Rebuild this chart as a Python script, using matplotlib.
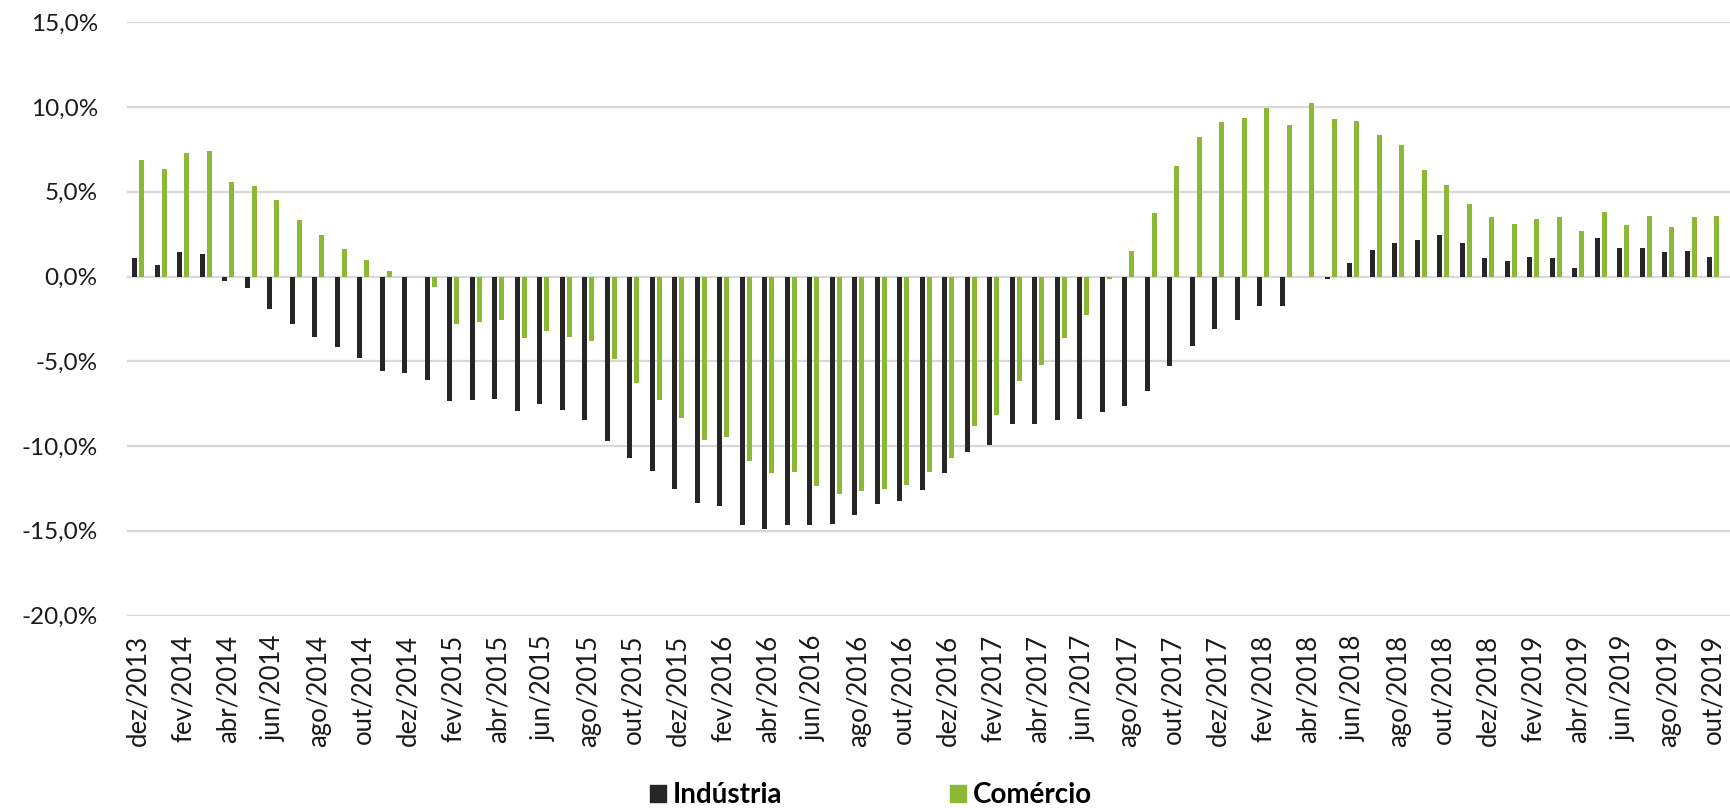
import matplotlib
matplotlib.use("Agg")
import matplotlib.pyplot as plt
from matplotlib.patches import Rectangle
import numpy as np

# Monthly periods, dez/2013 .. nov/2019
month_abbr = ["jan", "fev", "mar", "abr", "mai", "jun",
              "jul", "ago", "set", "out", "nov", "dez"]
periods = ["dez/2013"] + [f"{m}/{y}" for y in range(2014, 2020) for m in month_abbr][:71]

# Year-over-year variation (%)
industria = [
    1.12, 0.69, 1.47, 1.34, -0.26, -0.69, -1.89, -2.83, -3.58, -4.17,
    -4.82, -5.55, -5.71, -6.08, -7.32, -7.30, -7.22, -7.93, -7.54, -7.89,
    -8.47, -9.70, -10.71, -11.48, -12.52, -13.37, -13.52, -14.67, -14.92, -14.65,
    -14.67, -14.63, -14.06, -13.44, -13.23, -12.62, -11.57, -10.33, -9.94, -8.68,
    -8.72, -8.44, -8.43, -8.01, -7.62, -6.77, -5.28, -4.07, -3.09, -2.54,
    -1.75, -1.75, -0.03, -0.15, 0.81, 1.57, 2.00, 2.18, 2.46, 1.96,
    1.10, 0.90, 1.18, 1.10, 0.49, 2.28, 1.69, 1.67, 1.47, 1.53,
    1.16, 1.38,
]
comercio = [
    6.90, 6.37, 7.29, 7.41, 5.58, 5.32, 4.54, 3.34, 2.46, 1.63,
    0.98, 0.33, -0.02, -0.61, -2.83, -2.70, -2.56, -3.64, -3.19, -3.54,
    -3.79, -4.86, -6.30, -7.28, -8.35, -9.63, -9.47, -10.89, -11.57, -11.52,
    -12.36, -12.83, -12.68, -12.52, -12.28, -11.52, -10.69, -8.84, -8.15, -6.16,
    -5.20, -3.60, -2.26, -0.16, 1.51, 3.73, 6.54, 8.23, 9.10, 9.33,
    9.96, 8.94, 10.26, 9.27, 9.16, 8.35, 7.76, 6.29, 5.40, 4.28,
    3.52, 3.10, 3.42, 3.52, 2.69, 3.79, 3.05, 3.58, 2.91, 3.52,
    3.56, 3.50,
]
series_names = ["Indústria", "Comércio"]
colors = ["#262626", "#8CB935"]

W, H = 1731, 808
fig = plt.figure(figsize=(W / 100, H / 100), dpi=100)
ax = fig.add_axes([127 / W, (H - 615.5) / H, 1620 / W, (615.5 - 22.3) / H])

x = np.arange(len(periods))
bw = 0.24
off = 0.155
ax.bar(x - off, industria, width=bw, color=colors[0], label=series_names[0], zorder=3)
ax.bar(x + off, comercio, width=bw, color=colors[1], label=series_names[1], zorder=3)

ax.set_xlim(-0.5, len(periods) - 0.5)
ax.set_ylim(-20, 15)
yt = np.arange(-20, 16, 5)
ax.set_yticks(yt)
ax.set_yticklabels([f"{v:.1f}%".replace(".", ",") for v in yt],
                   fontfamily="Lato", fontsize=17.5, color="#1a1a1a")
ax.set_xticks(x[::2])
ax.set_xticklabels(periods[::2], rotation=90, fontfamily="Lato",
                   fontsize=18.5, color="#1a1a1a")
ax.tick_params(axis="both", length=0)
ax.tick_params(axis="y", pad=21)
ax.tick_params(axis="x", pad=14)

ax.yaxis.grid(True, color="#d9d9d9", linewidth=1.6, zorder=0)
ax.set_axisbelow(True)
for s in ax.spines.values():
    s.set_visible(False)

handles = [Rectangle((0, 0), 1, 1, color=c) for c in colors]
fig.legend(handles, series_names, loc="center", bbox_to_anchor=(871 / W, 1 - 795 / H),
           ncol=2, frameon=False, handlelength=0.58, handleheight=0.58,
           handletextpad=0.25, columnspacing=6.05, borderpad=0.2,
           prop={"family": "Lato", "weight": "bold", "size": 20})

fig.savefig("out.png", dpi=100)
